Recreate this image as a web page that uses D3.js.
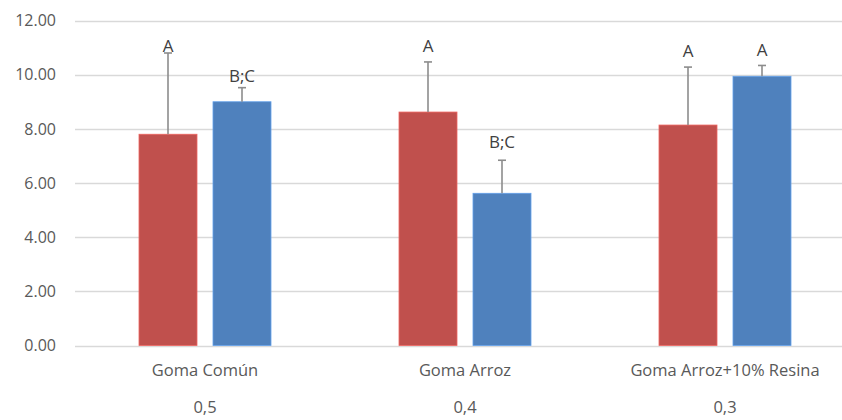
<!DOCTYPE html>
<html>
<head>
<meta charset="utf-8">
<script src="https://cdn.jsdelivr.net/npm/d3@7"></script>
<style>
  body { margin: 0; background: #fff; }
  svg text { font-family: "Open Sans", sans-serif; fill: #595959; }
</style>
</head>
<body>
<svg width="842" height="420"></svg>
<script>
// chart data
var categories = ["Goma Común", "Goma Arroz", "Goma Arroz+10% Resina"];
var subLabels = ["0,5", "0,4", "0,3"];
var seriesNames = ["s1", "s2"];
var redValues = [7.8, 8.62, 8.14];
var blueValues = [9.0, 5.62, 9.94];
var redErr = [3.0, 1.85, 2.14];
var blueErr = [0.52, 1.22, 0.4];
var redLetters = ["A", "A", "A"];
var blueLetters = ["B;C", "B;C", "A"];
var yTicks = [0, 2, 4, 6, 8, 10, 12];

var colors = ["#C0504D", "#4F81BD"];
// px gap between cap and label baseline (as placed in the original)
var labelGap = [[1, 6], [10, 12], [10, 9]];

var svg = d3.select("svg");

var x = d3.scaleBand()
    .domain(categories)
    .range([75, 855])
    .paddingInner(0)
    .paddingOuter(0);

var xs = d3.scaleBand()
    .domain(seriesNames)
    .range([64, 196])
    .paddingInner(16 / 74)
    .paddingOuter(0);

var y = d3.scaleLinear()
    .domain([0, 12])
    .range([345.5, 20.5]);

// gridlines
svg.append("g")
    .selectAll("line")
    .data(yTicks)
  .enter().append("line")
    .attr("x1", 75)
    .attr("x2", 842)
    .attr("y1", function(d) { return Math.round(y(d)) + 0.5; })
    .attr("y2", function(d) { return Math.round(y(d)) + 0.5; })
    .attr("stroke", "#d9d9d9")
    .attr("stroke-width", 1.3);

// y tick labels
svg.append("g")
    .selectAll("text")
    .data(yTicks)
  .enter().append("text")
    .attr("x", 56)
    .attr("y", function(d) { return y(d); })
    .attr("dy", "0.36em")
    .attr("text-anchor", "end")
    .style("font-size", "16px")
    .text(function(d) { return d3.format(".2f")(d); });

var rows = categories.map(function(c, i) {
  return [
    { cat: c, s: "s1", v: redValues[i], e: redErr[i], lab: redLetters[i], gap: labelGap[i][0], color: colors[0] },
    { cat: c, s: "s2", v: blueValues[i], e: blueErr[i], lab: blueLetters[i], gap: labelGap[i][1], color: colors[1] }
  ];
}).flat();

function cx(d) { return x(d.cat) + xs(d.s) + xs.bandwidth() / 2; }

var bars = svg.append("g");
bars.selectAll("rect")
    .data(rows)
  .enter().append("rect")
    .attr("x", function(d) { return x(d.cat) + xs(d.s); })
    .attr("y", function(d) { return y(d.v); })
    .attr("width", xs.bandwidth())
    .attr("height", function(d) { return y(0) - y(d.v); })
    .attr("fill", function(d) { return d.color; })
    .attr("stroke", function(d) { return d3.color(d.color).brighter(0.6); })
    .attr("stroke-width", 0.8);

// error bars (upper only)
var err = svg.append("g")
    .attr("stroke", "#8c8c8c")
    .attr("stroke-width", 1.6);
err.selectAll("line.v")
    .data(rows)
  .enter().append("line")
    .attr("class", "v")
    .attr("x1", cx).attr("x2", cx)
    .attr("y1", function(d) { return y(d.v); })
    .attr("y2", function(d) { return y(d.v + d.e); });
err.selectAll("line.c")
    .data(rows)
  .enter().append("line")
    .attr("class", "c")
    .attr("x1", function(d) { return cx(d) - 4; })
    .attr("x2", function(d) { return cx(d) + 4; })
    .attr("y1", function(d) { return y(d.v + d.e); })
    .attr("y2", function(d) { return y(d.v + d.e); });

// letters
svg.append("g")
    .selectAll("text")
    .data(rows)
  .enter().append("text")
    .attr("x", cx)
    .attr("y", function(d) { return y(d.v + d.e) - d.gap; })
    .attr("text-anchor", "middle")
    .style("font-size", "17px")
    .style("fill", "#404040")
    .text(function(d) { return d.lab; });

// category labels
var xl = svg.append("g");
xl.selectAll("text.cat")
    .data(categories)
  .enter().append("text")
    .attr("class", "cat")
    .attr("x", function(d) { return x(d) + x.bandwidth() / 2; })
    .attr("y", 376)
    .attr("text-anchor", "middle")
    .style("font-size", "16.5px")
    .text(function(d) { return d; });
xl.selectAll("text.sub")
    .data(subLabels)
  .enter().append("text")
    .attr("class", "sub")
    .attr("x", function(d, i) { return x(categories[i]) + x.bandwidth() / 2; })
    .attr("y", 413)
    .attr("text-anchor", "middle")
    .style("font-size", "16.5px")
    .text(function(d) { return d; });
</script>
</body>
</html>
